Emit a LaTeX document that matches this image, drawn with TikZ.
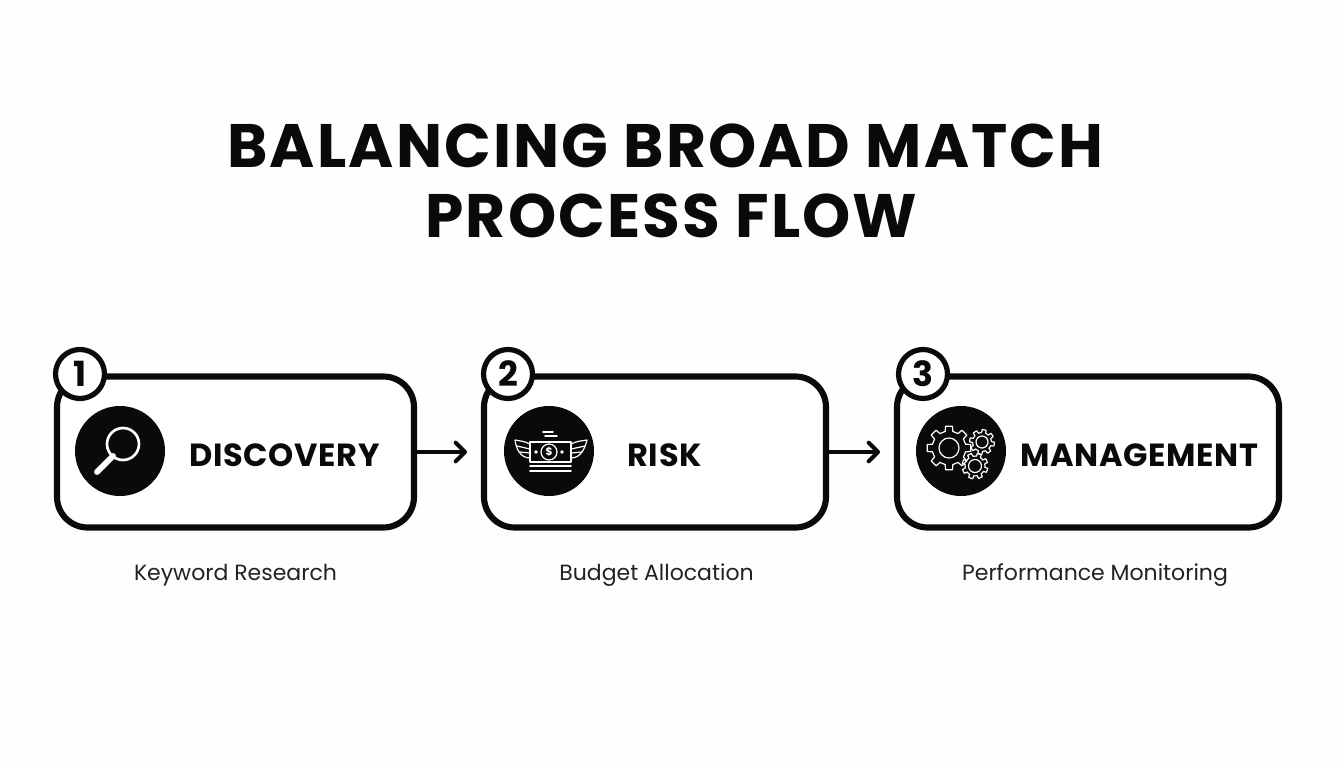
\documentclass[tikz,border=0pt]{standalone}
\usepackage{fontspec}
\setmainfont{Poppins}
\newfontfamily\titlefont[LetterSpace=3.5]{Poppins}
\newfontfamily\labelfont[LetterSpace=2.2]{Poppins}
\usetikzlibrary{arrows.meta}
\definecolor{inkblack}{HTML}{0A0A0A}
\definecolor{paper}{HTML}{FEFEFE}
\tikzset{
    flowbox/.style={draw=inkblack, line width=4.6pt, fill=white, rounded corners=23pt, minimum height=113.25pt, inner sep=0pt},
    badge/.style={circle, draw=inkblack, line width=3.9pt, fill=white, minimum size=36.75pt, inner sep=0pt, font=\fontsize{26}{26}\selectfont\bfseries, text=inkblack},
    iconback/.style={circle, fill=inkblack, minimum size=67.5pt, inner sep=0pt},
    headline/.style={font=\fontsize{46}{46}\titlefont\bfseries, text=inkblack, inner sep=0pt, anchor=base},
    steptitle/.style={font=\fontsize{24}{24}\labelfont\bfseries, text=inkblack, inner sep=0pt, anchor=base},
    stepnote/.style={font=\fontsize{16.5}{18}\selectfont, text=inkblack!90, inner sep=0pt, anchor=base},
    flowarrow/.style={draw=inkblack, line width=3pt, line cap=round, -{Straight Barb[length=7pt, width=14pt, line width=3pt, round]}},
    iconline/.style={draw=white, line width=0.9pt, line cap=round, line join=round},
}
% one cog outline, x y, outer radius, inner radius, hole radius
\newcommand{\cogicon}[5]{
        \foreach \k in {0,...,7} {
            \pgfmathsetmacro{\a}{\k*45+#5}
            \draw[iconline] ({#1+#4*cos(\a-13)},{#2+#4*sin(\a-13)}) -- ({#1+#3*cos(\a-9)},{#2+#3*sin(\a-9)})
                -- ({#1+#3*cos(\a+9)},{#2+#3*sin(\a+9)}) -- ({#1+#4*cos(\a+13)},{#2+#4*sin(\a+13)})
                arc[start angle=\a+13, end angle=\a+32, radius=#4];
        }
}
\begin{document}
\begin{tikzpicture}[x=0.75pt, y=-0.75pt]
        \useasboundingbox (0,0) rectangle (1344,768);
        \fill[paper] (0,0) rectangle (1344,768);

        \node[headline] (title1) at (665.5,167) {BALANCING BROAD MATCH};
        \node[headline] (title2) at (671.5,237) {PROCESS FLOW};

        \node[flowbox, minimum width=267.75pt] (box1) at (235.5,452) {};
        \node[flowbox, minimum width=256.5pt] (box2) at (655,452) {};
        \node[flowbox, minimum width=286.5pt] (box3) at (1088,452) {};

        \node[badge] (badge1) at (80,374) {1};
        \node[badge] (badge2) at (508,374) {2};
        \node[badge] (badge3) at (923,374) {3};

        \node[iconback] (icon1) at (120,451) {};
        \node[iconback] (icon2) at (549,451) {};
        \node[iconback] (icon3) at (961,451) {};

        \node[steptitle] (label1) at (284.5,466) {DISCOVERY};
        \node[steptitle] (label2) at (664.5,466) {RISK};
        \node[steptitle] (label3) at (1139.5,466) {MANAGEMENT};

        \node[stepnote] (note1) at (235.5,580) {Keyword Research};
        \node[stepnote] (note2) at (656.5,580) {Budget Allocation};
        \node[stepnote] (note3) at (1095,580) {Performance Monitoring};

        \coordinate (tip1) at (467,452);
        \coordinate (tip2) at (880,452);
        \draw[flowarrow] (box1.east) -- (tip1);
        \draw[flowarrow] (box2.east) -- (tip2);

        % magnifier
        \draw[white, line width=2pt] (123,444) circle (16);
        \draw[white, line width=4.4pt, line cap=round] (113,456) -- (97,472);

        % money with wings
        \draw[iconline] (530,442) rectangle (571,462);
        \draw[iconline] (549,452) circle (8);
        \node[text=white, font=\fontsize{8}{8}\selectfont\bfseries, inner sep=0pt] (dollar) at (549,452) {\$};
        \filldraw[white] (536,452) circle (1.4);
        \filldraw[white] (562,452) circle (1.4);
        \draw[iconline, line width=1.3pt] (530,466) -- (571,466);
        \draw[iconline, line width=1.3pt] (530,471) -- (571,471);
        \draw[iconline, line width=1.3pt] (543,432) -- (553,432);
        \draw[iconline, line width=1.3pt] (545,436) -- (557,436);
        \draw[iconline] (530,444) .. controls (524,441) and (520,441) .. (515,440) .. controls (516,448) and (520,458) .. (530,458);
        \draw[iconline] (517,446) -- (530,449);
        \draw[iconline] (520,452) -- (530,453);
        \draw[iconline] (571,444) .. controls (577,441) and (581,441) .. (587,440) .. controls (585,448) and (581,458) .. (571,458);
        \draw[iconline] (585,446) -- (571,449);
        \draw[iconline] (582,452) -- (571,453);

        % gears
        \cogicon{949}{448}{22}{17}{0}
        \draw[iconline] (949,448) circle (10);
        \cogicon{982}{442}{12.5}{9.5}{10}
        \draw[iconline] (982,442) circle (6);
        \cogicon{975}{466}{13}{10}{20}
        \draw[iconline] (975,466) circle (6.5);
\end{tikzpicture}
\end{document}
